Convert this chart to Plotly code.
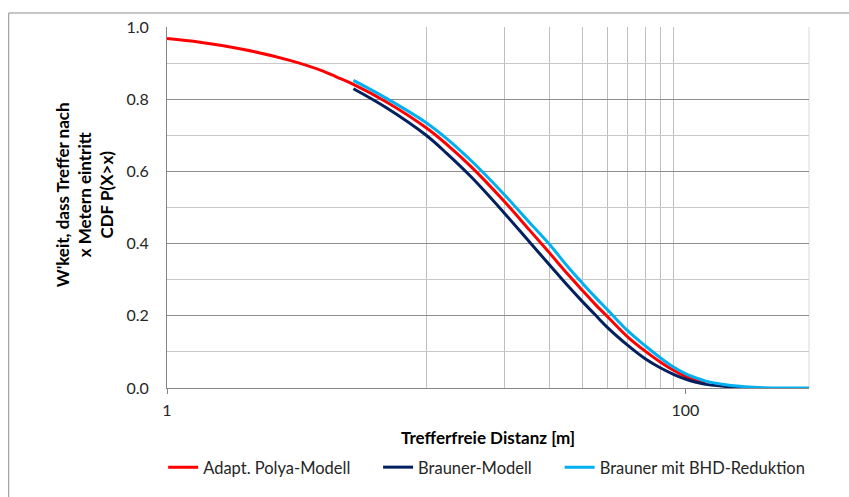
import plotly.graph_objects as go

# Distance without a hit [m] and survival probability P(X>x) per model
polya_x = [1, 1.34, 2, 3, 4, 4.5, 5.24, 7, 10, 12, 15, 20, 25, 30, 35, 40, 45, 50, 60, 70, 80, 90, 100, 110, 120]
polya_y = [0.968, 0.958, 0.937, 0.907, 0.878, 0.862, 0.841, 0.793, 0.721, 0.675, 0.611, 0.517, 0.438, 0.373, 0.317,
           0.271, 0.231, 0.198, 0.141, 0.102, 0.072, 0.049, 0.032, 0.021, 0.013]

brauner_x = [5.24, 7, 10, 12, 15, 20, 25, 30, 35, 40, 45, 50, 60, 70, 80, 90, 100, 110, 120, 150, 175]
brauner_y = [0.829, 0.777, 0.700, 0.650, 0.583, 0.485, 0.405, 0.340, 0.285, 0.240, 0.202, 0.168, 0.118, 0.081,
             0.056, 0.038, 0.025, 0.016, 0.010, 0.003, 0.0005]

bhd_x = [5.24, 7, 10, 12, 15, 20, 25, 30, 35, 40, 45, 50, 60, 70, 80, 90, 100, 110, 120, 150, 200, 250, 300]
bhd_y = [0.852, 0.803, 0.735, 0.691, 0.628, 0.536, 0.459, 0.397, 0.338, 0.291, 0.251, 0.217, 0.158, 0.117,
         0.084, 0.058, 0.040, 0.028, 0.019, 0.007, 0.001, 0.0, 0.0]

x_major_ticks = [1, 100]
x_minor_grid = [10, 20, 30, 40, 50, 60, 70, 80, 90]
y_ticks = [0.0, 0.2, 0.4, 0.6, 0.8, 1.0]

FONT = "Lato"
TEXT = "#262626"
AXIS = "#868686"

fig = go.Figure()
fig.add_trace(go.Scatter(x=polya_x, y=polya_y, mode="lines", name="Adapt. Polya-Modell", legend="legend",
                         line=dict(color="#FF0000", width=3, shape="spline", smoothing=1)))
fig.add_trace(go.Scatter(x=brauner_x, y=brauner_y, mode="lines", name="Brauner-Modell", legend="legend2",
                         line=dict(color="#002060", width=3, shape="spline", smoothing=1)))
fig.add_trace(go.Scatter(x=bhd_x, y=bhd_y, mode="lines", name="Brauner mit BHD-Reduktion", legend="legend3",
                         line=dict(color="#00B0F0", width=3, shape="spline", smoothing=1)))

legend_style = dict(orientation="h", xanchor="left", y=-0.22, yanchor="middle",
                    font=dict(family=FONT, size=16.5, color=TEXT), itemwidth=30,
                    bgcolor="rgba(0,0,0,0)")

fig.update_layout(
    width=849, height=497,
    margin=dict(l=167, r=40, t=27, b=109),
    paper_bgcolor="white", plot_bgcolor="white",
    font=dict(family=FONT, size=16, color=TEXT),
    showlegend=True,
    legend=dict(x=-0.006, **legend_style),
    legend2=dict(x=0.3288, **legend_style),
    legend3=dict(x=0.6116, **legend_style),
    xaxis=dict(
        type="log", range=[0, 2.4771],
        tickmode="array", tickvals=x_major_ticks, ticktext=["1", "100"],
        showgrid=False, ticks="outside", ticklen=5, tickcolor=AXIS, tickwidth=1,
        showline=True, linecolor=AXIS, linewidth=1,
        ticklabelstandoff=3, tickfont=dict(size=16),
        minor=dict(tickmode="array", tickvals=x_minor_grid, showgrid=True,
                   gridcolor="#BFBFBF", gridwidth=1, ticks=""),
        zeroline=False,
    ),
    yaxis=dict(
        range=[0, 1], tickmode="array", tickvals=y_ticks, tickformat=".1f",
        showgrid=True, gridcolor="#8C8C8C", gridwidth=1,
        minor=dict(dtick=0.1, showgrid=True, gridcolor="#C8C8C8", gridwidth=1, ticks=""),
        showline=True, linecolor=AXIS, linewidth=1, ticks="",
        ticklabelstandoff=14, tickfont=dict(size=16), zeroline=False,
    ),
)

# light right edge of the plot area and the outer chart frame
fig.add_shape(type="line", xref="paper", yref="paper", x0=1, x1=1, y0=0, y1=1,
              line=dict(color="#D9D9D9", width=1), layer="below")
fig.add_shape(type="rect", xref="paper", yref="paper", x0=-0.2465, x1=1.1, y0=-0.4, y1=1.0388,
              line=dict(color="#8C8C8C", width=1), fillcolor="rgba(0,0,0,0)", layer="below")

# axis titles
fig.add_annotation(text="W'keit, dass Treffer nach<br>x Metern eintritt<br>CDF P(X>x)",
                   xref="paper", yref="paper", x=-0.1287, y=0.535, textangle=-90,
                   showarrow=False, xanchor="center", yanchor="middle",
                   font=dict(family=FONT, size=17, color="#000000", weight="bold"))
fig.add_annotation(text="Trefferfreie Distanz [m]", xref="paper", yref="paper", x=0.5, y=-0.1366,
                   showarrow=False, xanchor="center", yanchor="middle",
                   font=dict(family=FONT, size=17, color="#000000", weight="bold"))

fig.write_html("out.html")
